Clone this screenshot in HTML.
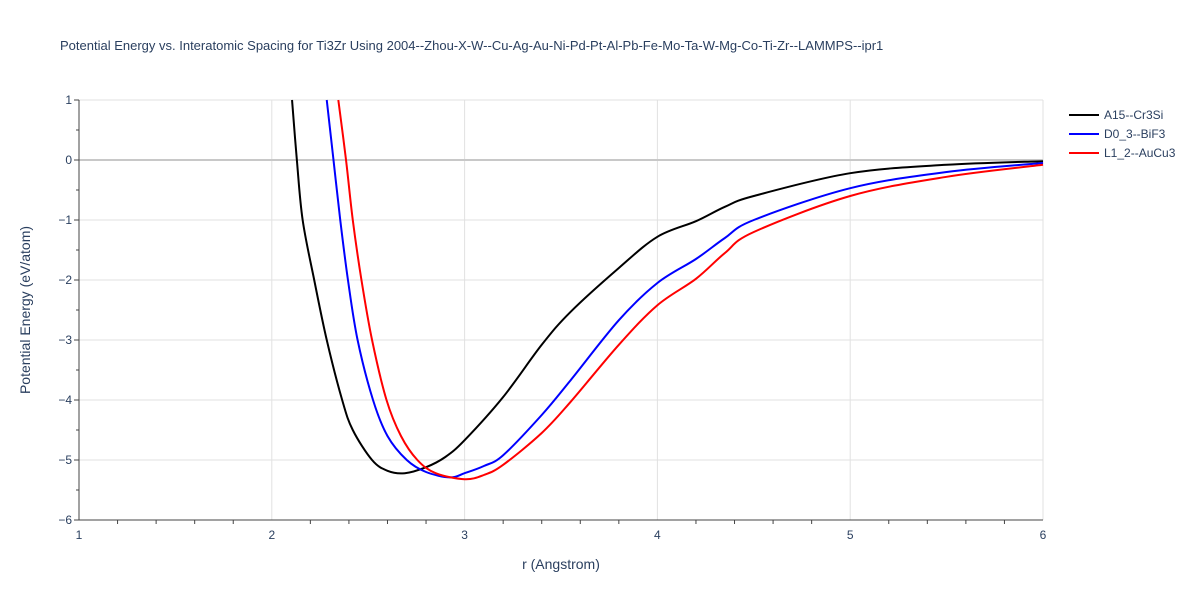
<!DOCTYPE html>
<html><head><meta charset="utf-8"><style>
body{margin:0;background:#fff;font-family:"Liberation Sans",sans-serif}
</style></head><body>
<svg id="chart" width="1200" height="600" xmlns="http://www.w3.org/2000/svg">
<text x="60" y="50" font-size="13" fill="#2a3f5f">Potential Energy vs. Interatomic Spacing for Ti3Zr Using 2004--Zhou-X-W--Cu-Ag-Au-Ni-Pd-Pt-Al-Pb-Fe-Mo-Ta-W-Mg-Co-Ti-Zr--LAMMPS--ipr1</text>
<g id="grid"></g><g id="axes"></g><g id="series"></g>
<text x="561" y="569" font-size="14" fill="#2a3f5f" text-anchor="middle">r (Angstrom)</text>
<text transform="translate(30,310) rotate(-90)" font-size="14" fill="#2a3f5f" text-anchor="middle">Potential Energy (eV/atom)</text>
<g id="legend"></g>
</svg>
<script>
const xTicks=[1,2,3,4,5,6];
const yTicks=[1,0,-1,-2,-3,-4,-5,-6];
const seriesNames=["A15--Cr3Si","D0_3--BiF3","L1_2--AuCu3"];
const seriesColors=["#000000","#0000ff","#ff0000"];
const rA15=[2.105,2.13,2.16,2.22,2.285,2.365,2.42,2.52,2.6,2.69,2.8,2.9,3.0,3.2,3.4,3.55,3.8,4.0,4.2,4.35,4.5,5.0,5.5,6.0];
const eA15=[1,0,-1,-2,-3,-4,-4.5,-5,-5.18,-5.22,-5.12,-4.95,-4.67,-3.95,-3.08,-2.53,-1.8,-1.28,-1.02,-0.78,-0.6,-0.22,-0.08,-0.02];
const rD03=[2.285,2.32,2.355,2.395,2.445,2.525,2.6,2.70,2.8,2.925,3.0,3.1,3.2,3.4,3.55,3.8,4.0,4.2,4.35,4.5,5.0,5.5,6.0];
const eD03=[1,0,-1,-2,-3,-4,-4.6,-5,-5.2,-5.29,-5.22,-5.1,-4.92,-4.25,-3.67,-2.67,-2.05,-1.65,-1.3,-1.0,-0.47,-0.2,-0.05];
const rL12=[2.345,2.385,2.42,2.465,2.52,2.595,2.67,2.755,2.85,3.0,3.1,3.2,3.4,3.55,3.8,4.0,4.2,4.35,4.5,5.0,5.5,6.0];
const eL12=[1,0,-1,-2,-3,-4,-4.6,-5,-5.22,-5.32,-5.25,-5.08,-4.55,-4.03,-3.08,-2.42,-1.98,-1.55,-1.2,-0.6,-0.28,-0.08];
const X0=79,X1=1043,Y0=100,Y1=520;
const xs=v=>X0+(v-1)/5*(X1-X0);
const ys=v=>Y0+(1-v)/7*(Y1-Y0);
const NS="http://www.w3.org/2000/svg";
function mk(t,a,p){const e=document.createElementNS(NS,t);for(const k in a)e.setAttribute(k,a[k]);p.appendChild(e);return e;}
const grid=document.getElementById('grid'),axes=document.getElementById('axes');
xTicks.forEach(t=>{if(t>1){const l=mk('line',{x1:xs(t),x2:xs(t),y1:Y0,y2:Y1,stroke:'#e1e1e1'},grid);

}
const tx=mk('text',{x:xs(t),y:539,'font-size':12,fill:'#2a3f5f','text-anchor':'middle'},axes);tx.textContent=t;

});
for(let v=1.2;v<6;v+=0.2){if(Math.abs(v-Math.round(v))<0.01)continue;mk('line',{x1:xs(v),x2:xs(v),y1:Y1,y2:Y1+4,stroke:'#444'},axes);}
yTicks.forEach(t=>{const l=mk('line',{x1:X0,x2:X1,y1:ys(t),y2:ys(t),stroke:t===0?'#c8c8c8':'#e1e1e1','stroke-width':t===0?2:1},grid);


mk('line',{x1:X0-5,x2:X0,y1:ys(t),y2:ys(t),stroke:'#444'},axes);
const tx=mk('text',{x:X0-7,y:ys(t)+4,'font-size':12,fill:'#2a3f5f','text-anchor':'end'},axes);tx.textContent=t<0?'\u2212'+Math.abs(t):String(t);

});
for(let v=-5.5;v<1;v+=1){mk('line',{x1:X0-3,x2:X0,y1:ys(v),y2:ys(v),stroke:'#444'},axes);}
mk('line',{x1:X0,x2:X0,y1:Y0,y2:Y1,stroke:'#444'},axes);
mk('line',{x1:X0,x2:X1,y1:Y1,y2:Y1,stroke:'#444'},axes);
function path(rs,es){const p=rs.map((r,i)=>[xs(r),ys(es[i])]);let d='M'+p[0][0]+','+p[0][1];
for(let i=0;i<p.length-1;i++){const a=p[i-1]||p[i],b=p[i],c=p[i+1],e=p[i+2]||c;
d+=` C${b[0]+(c[0]-a[0])/6},${b[1]+(c[1]-a[1])/6} ${c[0]-(e[0]-b[0])/6},${c[1]-(e[1]-b[1])/6} ${c[0]},${c[1]}`;}return d;}
const ser=document.getElementById('series');
[[rA15,eA15],[rD03,eD03],[rL12,eL12]].forEach((s,i)=>{const pth=mk('path',{d:path(s[0],s[1]),fill:'none',stroke:seriesColors[i],'stroke-width':2},ser);

});
const lg=document.getElementById('legend');
seriesNames.forEach((n,i)=>{const y=115+i*19;const g=mk('g',{},lg);


mk('line',{x1:1069,x2:1099,y1:y,y2:y,stroke:seriesColors[i],'stroke-width':2},g);
const t=mk('text',{x:1104,y:y+4,'font-size':12,fill:'#2a3f5f'},g);t.textContent=n;});
</script>
</body></html>
